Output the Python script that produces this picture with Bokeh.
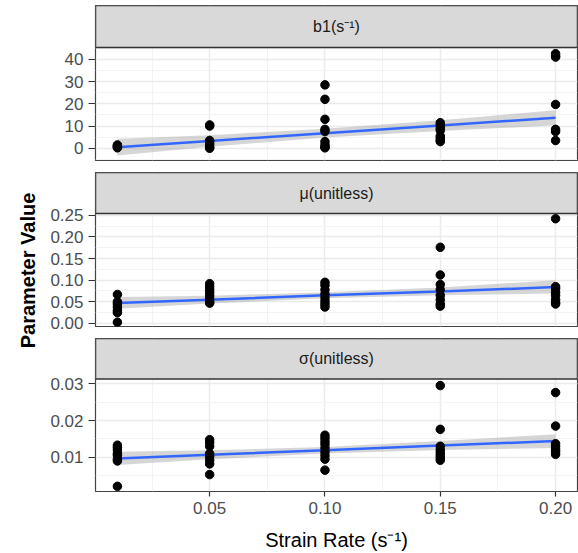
import math
from bokeh.plotting import figure
from bokeh.layouts import column, row
from bokeh.models import Range1d, FixedTicker, NumeralTickFormatter, Label, LinearAxis, Grid
from bokeh.embed import file_html
from bokeh.resources import INLINE

# ---------------- data ----------------
rates = [0.01, 0.05, 0.10, 0.15, 0.20]

b1_values = [
    [0.2, 0.6, 1.0, 1.5, 0.8],
    [10.5, 10.0, 3.5, 2.5, 1.5, 0.5, 0.0],
    [28.5, 22.0, 13.0, 8.5, 7.5, 3.0, 1.5, 0.5, 0.2],
    [11.5, 10.5, 9.0, 8.0, 5.5, 4.5, 3.5, 3.0],
    [42.5, 41.5, 41.0, 19.7, 8.5, 7.5, 3.5],
]
mu_values = [
    [0.067, 0.05, 0.045, 0.038, 0.03, 0.025, 0.003],
    [0.092, 0.085, 0.078, 0.072, 0.065, 0.058, 0.05, 0.047],
    [0.095, 0.088, 0.078, 0.068, 0.06, 0.052, 0.045, 0.038],
    [0.176, 0.112, 0.09, 0.078, 0.065, 0.055, 0.045, 0.04],
    [0.242, 0.085, 0.08, 0.072, 0.065, 0.055, 0.048, 0.045],
]
sigma_values = [
    [0.0133, 0.0127, 0.012, 0.011, 0.0105, 0.0095, 0.009, 0.0021],
    [0.0148, 0.014, 0.013, 0.011, 0.0102, 0.0092, 0.0082, 0.0053],
    [0.016, 0.0152, 0.0143, 0.0135, 0.0125, 0.0115, 0.0105, 0.0095, 0.0065],
    [0.0295, 0.0176, 0.013, 0.012, 0.0112, 0.0105, 0.0098, 0.0092],
    [0.0276, 0.0185, 0.0137, 0.013, 0.0122, 0.0115, 0.0108],
]

# fitted linear trend and its confidence band at each strain rate
b1_fit = [0.5, 3.3, 6.8, 10.2, 13.7]
b1_lo = [-3.3, 0.7, 4.8, 7.8, 10.3]
b1_hi = [4.3, 5.9, 8.8, 12.6, 17.1]
mu_fit = [0.047, 0.055, 0.065, 0.074, 0.084]
mu_lo = [0.034, 0.046, 0.058, 0.065, 0.069]
mu_hi = [0.061, 0.064, 0.072, 0.083, 0.100]
sigma_fit = [0.0097, 0.0107, 0.0119, 0.0132, 0.0144]
sigma_lo = [0.0079, 0.0095, 0.0110, 0.0120, 0.0125]
sigma_hi = [0.0115, 0.0119, 0.0128, 0.0144, 0.0163]

strip_labels = ["b1(s\u207b\u00b9)", "\u03bc(unitless)", "\u03c3(unitless)"]
x_ticks = [0.05, 0.10, 0.15, 0.20]
x_minor = [0.025, 0.075, 0.125, 0.175]
b1_ticks = [0, 10, 20, 30, 40]
b1_minor = [-5, 5, 15, 25, 35, 45]
mu_ticks = [0.00, 0.05, 0.10, 0.15, 0.20, 0.25]
mu_minor = [0.025, 0.075, 0.125, 0.175, 0.225]
sigma_ticks = [0.01, 0.02, 0.03]
sigma_minor = [0.005, 0.015, 0.025]

# ---------------- styling ----------------
FONT = "Liberation Sans"
LAB_W = 40
W = 578 - LAB_W
LEFT = 95 - LAB_W
xr = Range1d(0.0005, 0.2095)


def make_panel(title, values, fit, lo, hi, yrange, yt, ym, fmt,
               top, strip_h, panel_h, bottom, show_x):
    a, b = yrange
    frame_h = strip_h + panel_h
    y_top = b + (b - a) * strip_h / panel_h
    p = figure(width=W, height=top + frame_h + bottom, x_range=xr,
               y_range=Range1d(a, y_top),
               extra_y_ranges={"strip": Range1d(0, frame_h)},
               x_axis_location=None, y_axis_location=None,
               output_backend="svg", toolbar_location=None,
               min_border_left=LEFT, min_border_right=1,
               min_border_top=top, min_border_bottom=bottom)
    for g in p.grid:
        g.visible = False
    p.outline_line_color = "#444444"
    p.outline_line_width = 1.2

    xt = FixedTicker(ticks=x_ticks, minor_ticks=x_minor)
    ytk = FixedTicker(ticks=yt, minor_ticks=ym)
    for dim, tk in ((0, xt), (1, ytk)):
        g = Grid(dimension=dim, ticker=tk,
                 grid_line_color="#EBEBEB", grid_line_width=1.5,
                 minor_grid_line_color="#F2F2F2", minor_grid_line_width=0.9)
        g.level = "underlay"
        p.add_layout(g)

    ya = LinearAxis(ticker=ytk, formatter=NumeralTickFormatter(format=fmt))
    ya.axis_line_color = None
    ya.major_tick_line_color = "#333333"
    ya.major_tick_line_width = 1.2
    ya.major_tick_in = 0
    ya.major_tick_out = 7
    ya.minor_tick_line_color = None
    ya.major_label_text_font = FONT
    ya.major_label_text_font_size = "17px"
    ya.major_label_text_color = "#4D4D4D"
    ya.major_label_standoff = 5
    p.add_layout(ya, "left")

    if show_x:
        xa = LinearAxis(ticker=xt, formatter=NumeralTickFormatter(format="0.00"))
        xa.axis_line_color = None
        xa.major_tick_line_color = "#333333"
        xa.major_tick_line_width = 1.2
        xa.major_tick_in = 0
        xa.major_tick_out = 5
        xa.minor_tick_line_color = None
        xa.major_label_text_font = FONT
        xa.major_label_text_font_size = "17px"
        xa.major_label_text_color = "#4D4D4D"
        xa.major_label_standoff = 5
        xa.axis_label = "Strain Rate (s\u207b\u00b9)"
        xa.axis_label_text_font = FONT
        xa.axis_label_text_font_size = "20px"
        xa.axis_label_text_font_style = "normal"
        xa.axis_label_text_color = "#000000"
        xa.axis_label_standoff = 12
        p.add_layout(xa, "below")

    xs, ys = [], []
    for r, vals in zip(rates, values):
        xs += [r] * len(vals)
        ys += vals
    p.varea(x=rates, y1=lo, y2=hi, fill_color="#999999", fill_alpha=0.4)
    p.line(x=rates, y=fit, line_color="#3366FF", line_width=2.5)
    p.scatter(x=xs, y=ys, size=8.5, fill_color="black", line_color="black")

    # facet strip (grey header) occupying the top part of the frame
    p.quad(left=[xr.start], right=[xr.end], bottom=[panel_h], top=[frame_h],
           y_range_name="strip", fill_color="#D9D9D9", line_color="#333333",
           line_width=1.5)
    p.add_layout(Label(x=(xr.start + xr.end) / 2, y=panel_h + strip_h / 2,
                       y_range_name="strip", text=title,
                       text_align="center", text_baseline="middle",
                       text_font=FONT, text_font_size="16px",
                       text_color="#1A1A1A"))
    return p


p1 = make_panel(strip_labels[0], b1_values, b1_fit, b1_lo, b1_hi, (-5.5, 45.3),
                b1_ticks, b1_minor, "0", 5, 42, 113, 6, False)
p2 = make_panel(strip_labels[1], mu_values, mu_fit, mu_lo, mu_hi, (-0.007, 0.254),
                mu_ticks, mu_minor, "0.00", 6, 41, 113, 6, False)
p3 = make_panel(strip_labels[2], sigma_values, sigma_fit, sigma_lo, sigma_hi,
                (0.0007, 0.0313), sigma_ticks, sigma_minor, "0.00",
                6, 41, 114, 60, True)

lab = figure(width=LAB_W, height=553, x_range=Range1d(0, 1), y_range=Range1d(0, 1),
             x_axis_location=None, y_axis_location=None, min_border=0,
             output_backend="svg", toolbar_location=None)
for g in lab.grid:
    g.visible = False
lab.outline_line_color = None
lab.add_layout(Label(x=27, y=283, x_units="screen", y_units="screen",
                     angle=math.pi / 2, text="Parameter Value",
                     text_align="center", text_baseline="middle",
                     text_font=FONT, text_font_size="20px",
                     text_font_style="bold", text_color="#000000"))

layout = row(lab, column(p1, p2, p3))

with open("out.html", "w") as f:
    f.write(file_html(layout, INLINE))
